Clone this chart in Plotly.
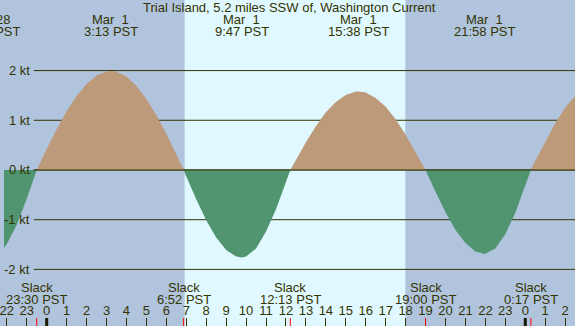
import plotly.graph_objects as go

# ---- data (hours since Mar 1 00:00 PST, current in knots) ----
t = [-2.25, -2.0, -1.5, -1.0, -0.5, 0, 0.5, 1, 1.5, 2, 2.5, 3, 3.217, 3.5, 4, 4.5, 5, 5.5, 6, 6.5,
     6.867, 7, 7.5, 8, 8.5, 9, 9.5, 9.783, 10, 10.5, 11, 11.5, 12, 12.217, 12.5, 13, 13.5, 14, 14.5,
     15, 15.5, 15.633, 16, 16.5, 17, 17.5, 18, 18.5, 19, 19.5, 20, 20.5, 21, 21.5, 21.967, 22.5, 23,
     23.5, 24, 24.283, 24.5, 25, 25.5, 26, 26.5, 26.75]
v = [-1.63, -1.49, -1.10, -0.58, 0, 0.42, 0.82, 1.18, 1.49, 1.73, 1.90, 1.98, 1.99, 1.975, 1.88, 1.69,
     1.43, 1.10, 0.73, 0.31, 0, -0.13, -0.59, -1.01, -1.36, -1.61, -1.74, -1.76, -1.74, -1.58, -1.24,
     -0.79, -0.25, 0, 0.20, 0.56, 0.88, 1.16, 1.37, 1.51, 1.58, 1.58, 1.56, 1.45, 1.27, 1.02, 0.71,
     0.36, 0, -0.44, -0.85, -1.21, -1.47, -1.64, -1.69, -1.58, -1.29, -0.86, -0.32, 0, 0.18, 0.57,
     0.94, 1.25, 1.49, 1.58]

max_times = [-2.867, 3.217, 9.783, 15.633, 21.967]
max_dates = ["Feb\u00a028", "Mar\u00a0\u00a01", "Mar\u00a0\u00a01", "Mar\u00a0\u00a01", "Mar\u00a0\u00a01"]
max_labels = ["21:08 PST", "3:13 PST", "9:47 PST", "15:38 PST", "21:58 PST"]

slack_times = [-0.5, 6.867, 12.217, 19.0, 24.283]
slack_labels = ["23:30 PST", "6:52 PST", "12:13 PST", "19:00 PST", "0:17 PST"]

sunrise = 6.917
sunset = 17.983

hour_ticks = list(range(-2, 27))
hour_text = ["22", "23", "0", "1", "2", "3", "4", "5", "6", "7", "8", "9", "10", "11", "12", "13",
             "14", "15", "16", "17", "18", "19", "20", "21", "22", "23", "0", "1", "2"]
midnights = [0, 24]

kt_vals = [2, 1, 0, -1, -2]
kt_text = ["2 kt", "1 kt", "0 kt", "-1 kt", "-2 kt"]

title = "Trial Island, 5.2 miles SSW of, Washington Current"

# ---- style ----
W, H = 575, 326
XR = [-2.141, 26.494]
YR = [-3.139, 3.42]
NIGHT = "#b0c4de"
DAY = "#e0f8ff"
FLOOD = "#bc9a7a"
EBB = "#509470"
INK = "#333300"
FONT = "Liberation Sans, Arial, sans-serif"


def px(h):
    return (h - XR[0]) / (XR[1] - XR[0])


def py(pix):
    return 1 - pix / H


flood = [max(a, 0) for a in v]
ebb = [min(a, 0) for a in v]

fig = go.Figure()
fig.add_trace(go.Scatter(x=t, y=flood, mode="lines", fill="tozeroy", fillcolor=FLOOD,
                         line=dict(width=0, color=FLOOD), hoverinfo="skip", showlegend=False))
fig.add_trace(go.Scatter(x=t, y=ebb, mode="lines", fill="tozeroy", fillcolor=EBB,
                         line=dict(width=0, color=EBB), hoverinfo="skip", showlegend=False))

shapes = []
# daylight band
shapes.append(dict(type="rect", xref="x", yref="paper", x0=sunrise, x1=sunset, y0=0, y1=1,
                   fillcolor=DAY, line=dict(width=0), layer="below"))
# knot grid lines
for k in kt_vals:
    shapes.append(dict(type="line", xref="paper", yref="y", x0=30 / W, x1=1, y0=k, y1=k,
                       line=dict(color=INK, width=1), layer="below"))
# zero line above fills
shapes.append(dict(type="line", xref="paper", yref="y", x0=30 / W, x1=1, y0=0, y1=0,
                   line=dict(color=INK, width=1), layer="above"))
# midnight ticks
for m in midnights:
    shapes.append(dict(type="line", xref="x", yref="paper", x0=m, x1=m, y0=0, y1=8 / H,
                       line=dict(color="#1a1a00", width=3), layer="above"))
# slack ticks
for s in slack_times:
    shapes.append(dict(type="line", xref="x", yref="paper", x0=s, x1=s, y0=0, y1=8 / H,
                       line=dict(color="#ff0000", width=1), layer="above"))

ann = []
fnt = dict(family=FONT, size=13, color=INK)
ann.append(dict(text=title, xref="paper", yref="paper", x=0.5, y=py(7.5), showarrow=False,
                font=fnt, xanchor="center", yanchor="middle"))
for tm, d, lab in zip(max_times, max_dates, max_labels):
    ann.append(dict(text=d, xref="paper", yref="paper", x=px(tm), y=py(19), showarrow=False,
                    font=fnt, xanchor="center", yanchor="middle"))
    ann.append(dict(text=lab, xref="paper", yref="paper", x=px(tm), y=py(31.5), showarrow=False,
                    font=fnt, xanchor="center", yanchor="middle"))
for tm, lab in zip(slack_times, slack_labels):
    ann.append(dict(text="Slack", xref="paper", yref="paper", x=px(tm), y=py(287.5), showarrow=False,
                    font=fnt, xanchor="center", yanchor="middle"))
    ann.append(dict(text=lab, xref="paper", yref="paper", x=px(tm), y=py(299.5), showarrow=False,
                    font=fnt, xanchor="center", yanchor="middle"))
for k, txt in zip(kt_vals, kt_text):
    ann.append(dict(text=txt, xref="paper", yref="y", x=28.5 / W, y=k, showarrow=False,
                    font=fnt, xanchor="right", yanchor="middle"))

fig.update_layout(
    width=W, height=H, margin=dict(l=0, r=0, t=0, b=0),
    paper_bgcolor=NIGHT, plot_bgcolor=NIGHT,
    shapes=shapes, annotations=ann, showlegend=False,
    xaxis=dict(range=XR, showgrid=False, zeroline=False, showline=False, ticks="inside",
               ticklen=8, tickwidth=1, tickcolor=INK, tickvals=hour_ticks, ticktext=hour_text,
               ticklabelposition="inside", ticklabeloverflow="allow",
               tickfont=dict(family=FONT, size=13, color=INK), fixedrange=True),
    yaxis=dict(range=YR, showgrid=False, zeroline=False, showline=False, showticklabels=False,
               ticks="", fixedrange=True),
)

fig.write_html("out.html", config={"displayModeBar": False},
               post_script="document.body.style.margin='0';document.body.style.padding='0';")
